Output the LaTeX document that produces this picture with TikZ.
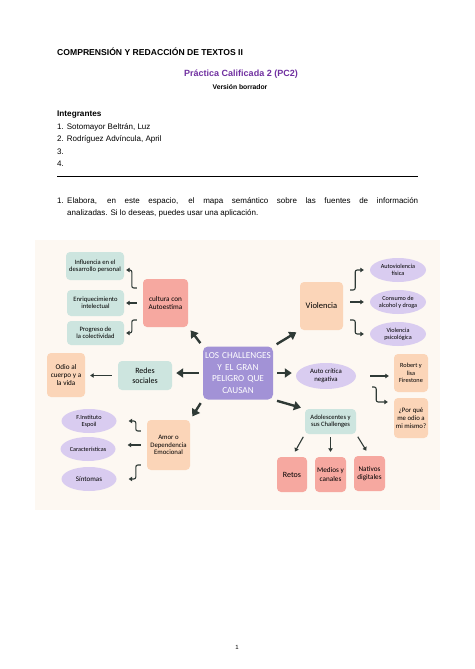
\documentclass[tikz,border=0pt]{standalone}
\usepackage{fontspec}
\setmainfont{Liberation Sans}
\newfontfamily\mapfont{Carlito}
\usetikzlibrary{arrows.meta,positioning,shapes.geometric,backgrounds}
\definecolor{titlepurple}{RGB}{112,48,160}
\definecolor{mapcream}{RGB}{253,248,242}
\definecolor{boxteal}{RGB}{205,229,223}
\definecolor{boxpink}{RGB}{246,168,160}
\definecolor{boxpeach}{RGB}{251,213,184}
\definecolor{ovallav}{RGB}{217,204,240}
\definecolor{corepurple}{RGB}{162,146,214}
\definecolor{arrowgreen}{RGB}{47,58,54}
\tikzset{
  hdr/.style={anchor=base west, inner sep=0pt, font=\fontsize{8}{9}\selectfont},
  tbox/.style={rounded corners=4pt, fill=boxteal, align=center, inner sep=1pt,
               font=\mapfont\fontsize{6.6}{7.2}\selectfont},
  pbox/.style={tbox, fill=boxpink, font=\mapfont\fontsize{7.2}{8.2}\selectfont},
  obox/.style={tbox, fill=boxpeach, font=\mapfont\fontsize{7.2}{8.2}\selectfont},
  lav/.style={ellipse, fill=ovallav, align=center, inner sep=0pt,
              minimum width=55pt, minimum height=24pt,
              font=\mapfont\fontsize{6.2}{6.8}\selectfont},
  core/.style={rounded corners=5pt, fill=corepurple, text=white, align=center,
               text width=68pt, minimum height=53pt, inner sep=1pt,
               font=\mapfont\fontsize{9.2}{11.5}\selectfont},
  bigarrow/.style={-{Triangle[length=7pt,width=9pt]}, line width=2.4pt, draw=arrowgreen,
                   shorten <=4pt, shorten >=4pt},
  smallarrow/.style={-{Triangle[length=3.5pt,width=4.5pt]}, line width=1.1pt,
                     draw=arrowgreen, rounded corners=2pt},
}
\begin{document}
\begin{tikzpicture}[x=1pt,y=-1pt]
  \useasboundingbox (0,0) rectangle (474,669);
  % page header
  \node[hdr, font=\bfseries\fontsize{8.6}{10}\selectfont] (course) at (57,56) {COMPRENSIÓN Y REDACCIÓN DE TEXTOS II};
  \node[anchor=base, inner sep=0pt, text=titlepurple, font=\bfseries\fontsize{9}{10}\selectfont] (pc) at (241,77) {Práctica Calificada 2 (PC2)};
  \node[anchor=base, inner sep=0pt, font=\bfseries\fontsize{6.8}{8}\selectfont] (draft) at (240,89.5) {Versión borrador};
  \node[hdr, font=\bfseries\fontsize{8.2}{9}\selectfont] (team) at (57,116) {Integrantes};
  \node[hdr] (m1) at (57,129) {1. Sotomayor Beltrán, Luz};
  \node[hdr] (m2) at (57,141.5) {2. Rodríguez Advíncula, April};
  \node[hdr] (m3) at (57,154) {3.};
  \node[hdr] (m4) at (57,166.5) {4.};
  \draw[line width=1.6pt] (57,176.5) -- (418,176.5);
  \node[hdr] (qnum) at (57,203.5) {1.};
  \node[anchor=base west, inner sep=0pt, text width=351pt, align=justify,
        font=\fontsize{8}{11.8}\selectfont] (task) at (67,203.5)
    {Elabora, en este espacio, el mapa semántico sobre las fuentes de información\linebreak
     analizadas. Si lo deseas, puedes usar una aplicación.};

  % semantic map
  \fill[mapcream] (35,240) rectangle (440,510);
  \node[core] (core) at (238,373) {LOS CHALLENGES\\ Y EL GRAN\\ PELIGRO QUE\\ CAUSAN};

  \node[pbox, minimum width=45pt, minimum height=48pt] (cult) at (165.5,303) {cultura con\\ Autoestima};
  \node[tbox, minimum width=58pt, minimum height=28pt] (infl) at (95,266) {Influencia en el\\ desarrollo personal};
  \node[tbox, minimum width=57pt, minimum height=26pt] (enr) at (95.5,303) {Enriquecimiento\\ intelectual};
  \node[tbox, minimum width=57pt, minimum height=24pt] (prog) at (95.5,333) {Progreso de\\ la colectividad};

  \node[tbox, minimum width=54pt, minimum height=29pt, font=\mapfont\fontsize{8}{9.5}\selectfont] (redes) at (145,375.5) {Redes\\ sociales};
  \node[obox, minimum width=38pt, minimum height=44pt] (odio) at (66,375) {Odio al\\ cuerpo y a\\ la vida};

  \node[obox, minimum width=43pt, minimum height=50pt, font=\mapfont\fontsize{6.8}{7.8}\selectfont] (amor) at (168.5,445) {Amor o\\ Dependencia\\ Emocional};
  \node[lav] (esp) at (89,421) {F.Instituto\\ Espoil};
  \node[lav] (car) at (88,449) {Características};
  \node[lav, font=\mapfont\fontsize{7}{8}\selectfont] (sint) at (89,479) {Síntomas};

  \node[obox, minimum width=43pt, minimum height=48pt, font=\mapfont\fontsize{8.5}{9.5}\selectfont] (viol) at (321.5,306) {Violencia};
  \node[lav, minimum width=56pt] (autov) at (398,270) {Autoviolencia\\ física};
  \node[lav, minimum width=56pt] (cons) at (398,302) {Consumo de\\ alcohol y droga};
  \node[lav, minimum width=56pt] (psic) at (398,334) {Violencia\\ psicológica};

  \node[lav, minimum width=60pt, minimum height=26pt, font=\mapfont\fontsize{6.8}{7.6}\selectfont] (crit) at (326,376) {Auto crítica\\ negativa};
  \node[obox, minimum width=34pt, minimum height=38pt, font=\mapfont\fontsize{6.3}{7.2}\selectfont] (rob) at (411,373) {Robert y\\ lisa\\ Firestone};
  \node[obox, minimum width=34pt, minimum height=40pt, font=\mapfont\fontsize{6.8}{7.8}\selectfont] (porq) at (411,418) {¿Por qué\\ me odio a\\ mi mismo?};

  \node[tbox, minimum width=51pt, minimum height=25pt] (adol) at (330.5,421.5) {Adolescentes y\\ sus Challenges};
  \node[pbox, minimum width=30pt, minimum height=35pt, font=\mapfont\fontsize{8}{9}\selectfont] (retos) at (292,474.5) {Retos};
  \node[pbox, minimum width=31pt, minimum height=35pt] (medios) at (330.5,474.5) {Medios y\\ canales};
  \node[pbox, minimum width=31pt, minimum height=35pt] (nat) at (369.5,473.5) {Nativos\\ digitales};

  % thick arrows out of the core
  \draw[bigarrow] (core.north west) -- (cult.south east);
  \draw[bigarrow] (core.north east) -- (viol.south west);
  \draw[bigarrow] (core.west) -- (core.west -| redes.east);
  \draw[bigarrow] (core.east) -- (core.east -| crit.west);
  \draw[bigarrow] (core.south west) -- (amor.north east);
  \draw[bigarrow] (core.south east) -- (adol.north west);

  % small arrows
  \draw[smallarrow, shorten >=2pt] ([shift={(-6,-15)}]cult.west) -- ++(-5,0) |- ([yshift=-4pt]infl.east);
  \draw[smallarrow, shorten <=6pt, shorten >=2pt] (cult.west) -- (enr.east);
  \draw[smallarrow, shorten >=2pt] ([shift={(-6,17)}]cult.west) -- ++(-5,0) |- (prog.east);
  \draw[smallarrow, shorten <=6pt, shorten >=5pt] (redes.west) -- (redes.west -| odio.east);

  \draw[smallarrow, shorten >=12pt] ([shift={(-6,-14)}]amor.west) -- ++(-5,0) |- (esp.east);
  \draw[smallarrow, shorten <=6pt, shorten >=12pt] (amor.west) -- (amor.west -| car.east);
  \draw[smallarrow, shorten >=12pt] ([shift={(-6,20)}]amor.west) -- ++(-5,0) |- (sint.east);

  \draw[smallarrow, shorten >=6pt] ([shift={(7,-16)}]viol.east) -- ++(5,0) |- (autov.west);
  \draw[smallarrow, shorten <=7pt, shorten >=6pt] (viol.east |- cons.west) -- (cons.west);
  \draw[smallarrow, shorten >=6pt] ([shift={(7,14)}]viol.east) -- ++(5,0) |- (psic.west);

  \draw[smallarrow, shorten <=14pt, shorten >=5pt] (crit.east) -- (crit.east -| rob.west);
  \draw[smallarrow, shorten >=6pt] ([shift={(16,11)}]crit.east) -- ++(4,0) |- ([yshift=16pt]porq.west);

  \draw[smallarrow, shorten <=3pt, shorten >=6pt] (adol.south west) -- (retos.north);
  \draw[smallarrow, shorten <=3pt, shorten >=5pt] (adol.south) -- (medios.north);
  \draw[smallarrow, shorten <=3pt, shorten >=6pt] (adol.south east) -- (nat.north);

  % page number
  \node[inner sep=0pt, font=\fontsize{6}{7}\selectfont] (pnum) at (237,647) {1};
\end{tikzpicture}
\end{document}
